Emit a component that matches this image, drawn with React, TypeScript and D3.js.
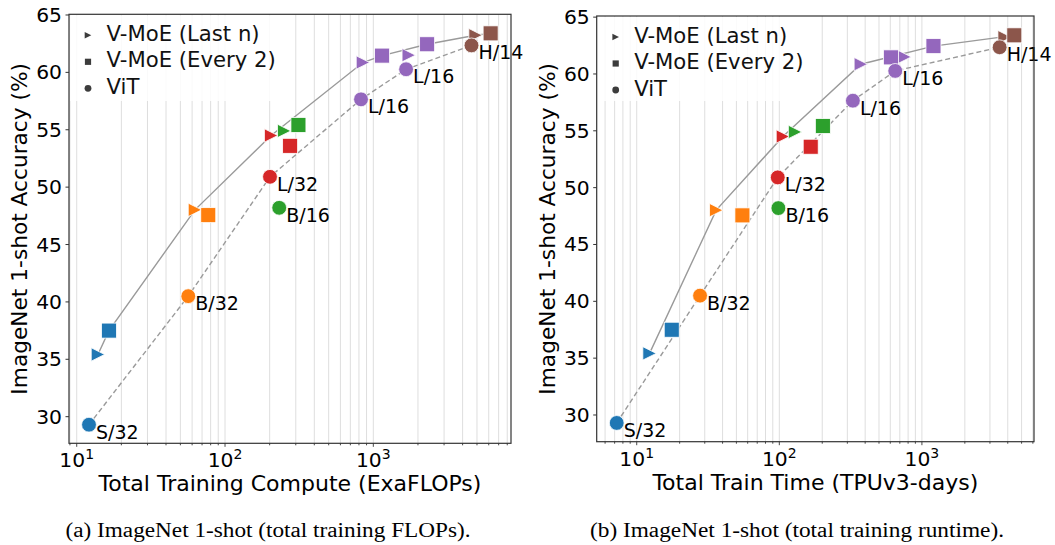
import React from "react";
import * as d3 from "d3";

// model sizes, in the order used by every series below
const models = ["S/32", "B/32", "L/32", "B/16", "L/16", "L/16", "H/14"];
const modelColors = ["#1f77b4", "#ff7f0e", "#d62728", "#2ca02c", "#9467bd", "#9467bd", "#8c564b"];

// ViT (circles)
const vitFlops = [12.1, 56.5, 201, 232, 826, 1663, 4592];
const vitDays = [7.24, 27.8, 97.5, 98.5, 328, 650, 3508];
const vitAcc = [29.3, 40.5, 50.9, 48.2, 57.65, 60.27, 62.35];

// V-MoE (Last n) (triangles)
const lastFlops = [13.9, 62.7, 204.6, 250.6, 851, 1734, 4889];
const lastDays = [12.3, 36.1, 106, 129, 373, 755, 3802];
const lastAcc = [35.42, 48.02, 54.5, 54.9, 60.86, 61.5, 63.24];

// V-MoE (Every 2) (squares)
const everyFlops = [16.5, 77.1, 274.8, 312.6, 1146, 2306, 6180];
const everyDays = [17.6, 55.1, 166, 202, 606, 1205, 4446];
const everyAcc = [37.5, 47.56, 53.6, 55.42, 61.46, 62.45, 63.4];

const yTicks = [30, 35, 40, 45, 50, 55, 60, 65];
const xMajor = [10, 100, 1000];
const legendNames = ["V-MoE (Last n)", "V-MoE (Every 2)", "ViT"];

const panels = [
  {
    left: 69, right: 511, top: 14.3, bottom: 443.3,
    xDomain: [8.87, 8480], yDomain: [27.68, 65.06],
    xLabel: "Total Training Compute (ExaFLOPs)",
    vit: vitFlops, last: lastFlops, every: everyFlops,
    caption: "(a) ImageNet 1-shot (total training FLOPs).", capX: 268, capW: 405,
  },
  {
    left: 596.7, right: 1034, top: 16, bottom: 441.7,
    xDomain: [5.24, 6110], yDomain: [27.65, 65.1],
    xLabel: "Total Train Time (TPUv3-days)",
    vit: vitDays, last: lastDays, every: everyDays,
    caption: "(b) ImageNet 1-shot (total training runtime).", capX: 797, capW: 414,
  },
];

const FONT = "'DejaVu Sans', sans-serif";
const LINE = "#9a9a9a";

type Pt = { x: number; y: number };

// step frontier (best accuracy so far)
function frontier(pts: Pt[]) {
  const sorted = [...pts].sort((a, b) => a.x - b.x);
  let best = -Infinity;
  return sorted.filter(p => {
    if (p.y > best) { best = p.y; return true; }
    return false;
  });
}

// upper hull in (log x, y)
function upperHull(pts: Pt[]) {
  const s = [...pts].sort((a, b) => a.x - b.x);
  const h: Pt[] = [];
  const lx = (p: Pt) => Math.log10(p.x);
  for (const p of s) {
    while (h.length >= 2) {
      const o = h[h.length - 2], a = h[h.length - 1];
      const cr = (lx(a) - lx(o)) * (p.y - o.y) - (a.y - o.y) * (lx(p) - lx(o));
      if (cr >= 0) h.pop(); else break;
    }
    h.push(p);
  }
  return h;
}

const triPath = (cx: number, cy: number, h: number) =>
  `M${cx + h},${cy}L${cx - h},${cy - h}L${cx - h},${cy + h}Z`;

function Panel({ p }: { p: any }) {
  const x = d3.scaleLog().domain(p.xDomain).range([p.left, p.right]);
  const y = d3.scaleLinear().domain(p.yDomain).range([p.bottom, p.top]);

  const grid: number[] = [];
  for (let e = 0; e <= 4; e++) {
    for (let m = 1; m <= 9; m++) {
      const v = m * Math.pow(10, e);
      if (v >= p.xDomain[0] && v <= p.xDomain[1]) grid.push(v);
    }
  }

  const vitPts = p.vit.map((v: number, i: number) => ({ x: v, y: vitAcc[i] }));
  const moePts = [
    ...p.last.map((v: number, i: number) => ({ x: v, y: lastAcc[i] })),
    ...p.every.map((v: number, i: number) => ({ x: v, y: everyAcc[i] })),
  ];
  const line = d3.line<Pt>().x(d => x(d.x)).y(d => y(d.y));

  const midX = (p.left + p.right) / 2;
  const midY = (p.top + p.bottom) / 2;

  return (
    <g>
      {/* vertical grid, major + minor */}
      {grid.map(v => (
        <line key={"g" + v} x1={x(v)} x2={x(v)} y1={p.top} y2={p.bottom} stroke="#dedede" strokeWidth={1} />
      ))}

      {/* legend box hides grid underneath */}
      <rect x={p.left + 1} y={p.top + 1} width={205} height={100 - p.top} fill="#fff" opacity={0.85} />
      {legendNames.map((name, i) => {
        const cy = p.top + 21 + i * 26.5;
        const cx = p.left + 19;
        return (
          <g key={name}>
            {i === 0 && <path d={triPath(cx, cy, 3.3)} fill="#3c3c3c" />}
            {i === 1 && <rect x={cx - 3.1} y={cy - 3.1} width={6.2} height={6.2} fill="#3c3c3c" />}
            {i === 2 && <circle cx={cx} cy={cy} r={3.4} fill="#3c3c3c" />}
            <text x={p.left + 37.5} y={cy + 5.5} fontFamily={FONT} fontSize={21.2} fill="#111">{name}</text>
          </g>
        );
      })}

      {/* frontier lines */}
      <path d={line(upperHull(moePts)) || ""} fill="none" stroke={LINE} strokeWidth={1.4} />
      <path d={line(frontier(vitPts)) || ""} fill="none" stroke={LINE} strokeWidth={1.4} strokeDasharray="5,3" />

      {/* markers */}
      {p.last.map((v: number, i: number) => (
        <path key={"t" + i} d={triPath(x(v), y(lastAcc[i]), 6.7)} fill={modelColors[i]} stroke="#fff" strokeWidth={0.8} />
      ))}
      {p.every.map((v: number, i: number) => (
        <rect key={"s" + i} x={x(v) - 7.5} y={y(everyAcc[i]) - 7.5} width={15} height={15} fill={modelColors[i]} stroke="#fff" strokeWidth={0.8} />
      ))}
      {p.vit.map((v: number, i: number) => (
        <g key={"c" + i}>
          <circle cx={x(v)} cy={y(vitAcc[i])} r={7.4} fill={modelColors[i]} stroke="#fff" strokeWidth={0.8} />
          <text x={x(v) + 7} y={y(vitAcc[i]) + 14} fontFamily={FONT} fontSize={19} fill="#000">{models[i]}</text>
        </g>
      ))}

      {/* frame */}
      <rect x={p.left} y={p.top} width={p.right - p.left} height={p.bottom - p.top} fill="none" stroke="#333" strokeWidth={1.2} />

      {/* y ticks */}
      {yTicks.map(t => (
        <g key={"y" + t}>
          <line x1={p.left - 3.5} x2={p.left} y1={y(t)} y2={y(t)} stroke="#333" strokeWidth={1} />
          <text x={p.left - 7} y={y(t) + 7} textAnchor="end" fontFamily={FONT} fontSize={20.3} fill="#000">{t}</text>
        </g>
      ))}

      {/* x ticks */}
      {grid.map(v => (
        <line key={"xt" + v} x1={x(v)} x2={x(v)} y1={p.bottom} y2={p.bottom + (xMajor.includes(v) ? 3.5 : 2)} stroke="#333" strokeWidth={0.9} />
      ))}
      {xMajor.filter(v => v >= p.xDomain[0] && v <= p.xDomain[1]).map(v => (
        <text key={"xl" + v} x={x(v)} y={p.bottom + 24} textAnchor="middle" fontFamily={FONT} fontSize={20.3} fill="#000">
          <tspan>10</tspan>
          <tspan dy={-8} fontSize={14}>{Math.round(Math.log10(v))}</tspan>
        </text>
      ))}

      {/* axis labels */}
      <text x={midX} y={p.bottom + 48} textAnchor="middle" fontFamily={FONT} fontSize={22} fill="#000">{p.xLabel}</text>
      <text transform={`translate(${p.left - 42},${midY}) rotate(-90)`} textAnchor="middle" fontFamily={FONT} fontSize={21.7} fill="#000">
        ImageNet 1-shot Accuracy (%)
      </text>

      {/* caption */}
      <text x={p.capX} y={536.5} textAnchor="middle" fontFamily="'Liberation Serif', 'Times New Roman', serif" fontSize={20.5}
        textLength={p.capW} lengthAdjust="spacingAndGlyphs" fill="#000">
        {p.caption}
      </text>
    </g>
  );
}

export default function App() {
  return (
    <div style={{ position: "absolute", left: 0, top: 0 }}>
      <svg width={1055} height={545} style={{ display: "block", background: "#fff" }}>
        {panels.map((p, i) => <Panel key={i} p={p} />)}
      </svg>
    </div>
  );
}
